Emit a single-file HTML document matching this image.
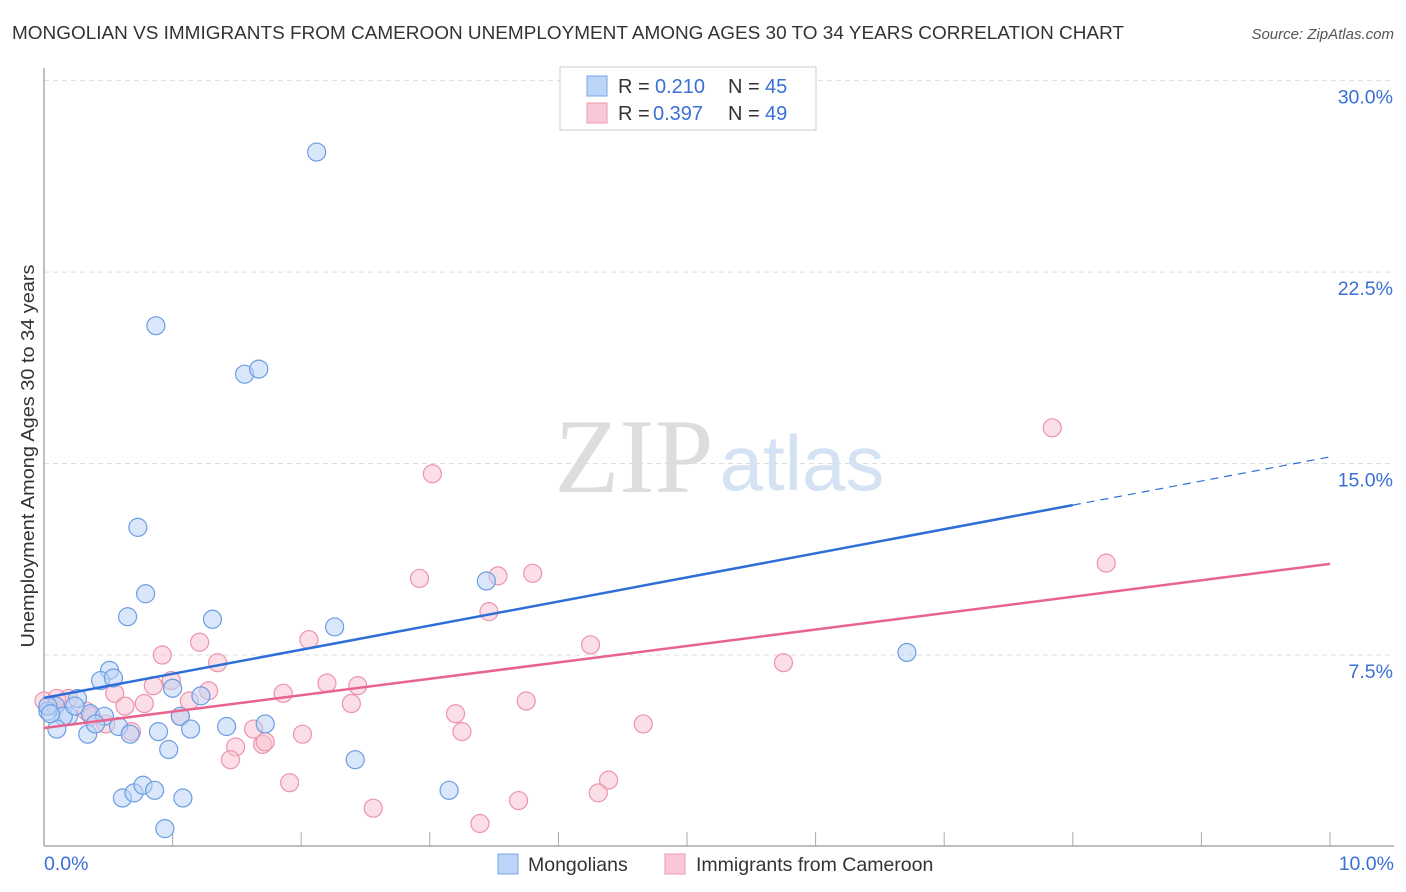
<!DOCTYPE html>
<html><head><meta charset="utf-8">
<style>
body{margin:0;background:#fff;font-family:"Liberation Sans",sans-serif;}
#wrap{position:relative;width:1406px;height:892px;overflow:hidden;}
</style></head>
<body>
<div id="wrap">
<svg id="svg" width="1406" height="892" xmlns="http://www.w3.org/2000/svg">
<text x="12" y="39" font-size="18" fill="#333" textLength="1112" lengthAdjust="spacingAndGlyphs">MONGOLIAN VS IMMIGRANTS FROM CAMEROON UNEMPLOYMENT AMONG AGES 30 TO 34 YEARS CORRELATION CHART</text>
<text x="1394" y="39" font-size="15" fill="#555" font-style="italic" text-anchor="end">Source: ZipAtlas.com</text>
<text x="634" y="492" font-size="106" fill="#ddd" font-family="Liberation Serif" text-anchor="middle">ZIP</text>
<text x="802" y="490" font-size="78" fill="#d5e2f3" text-anchor="middle">atlas</text>
<text transform="translate(34,456) rotate(-90)" font-size="18.5" fill="#333" text-anchor="middle" textLength="383" lengthAdjust="spacingAndGlyphs">Unemployment Among Ages 30 to 34 years</text>
<g id="grid"></g><g id="pts"></g><g id="lines"></g>
<g>
<rect x="560" y="67" width="256" height="63" fill="#fff" stroke="#ccc"/>
<rect x="587" y="76" width="20" height="20" fill="#bcd4f5" stroke="#7aa6e6"/>
<rect x="587" y="103" width="20" height="20" fill="#f9c8d6" stroke="#ee9ab2"/>
<text x="618" y="93" font-size="20" fill="#333">R =</text>
<text x="655" y="93" font-size="20" fill="#3a6fd6">0.210</text>
<text x="728" y="93" font-size="20" fill="#333">N =</text>
<text x="765" y="93" font-size="20" fill="#3a6fd6">45</text>
<text x="618" y="120" font-size="20" fill="#333">R =</text>
<text x="653" y="120" font-size="20" fill="#3a6fd6">0.397</text>
<text x="728" y="120" font-size="20" fill="#333">N =</text>
<text x="765" y="120" font-size="20" fill="#3a6fd6">49</text>
</g>
<g>
<rect x="498" y="854" width="20" height="20" fill="#bcd4f5" stroke="#7aa6e6"/>
<text x="528" y="871" font-size="19.5" fill="#333">Mongolians</text>
<rect x="665" y="854" width="20" height="20" fill="#f9c8d6" stroke="#ee9ab2"/>
<text x="696" y="871" font-size="19.5" fill="#333">Immigrants from Cameroon</text>
</g>
</svg>
</div>
<script>
const yTicks=[7.5,15,22.5,30];
const yTickLabels=["7.5%","15.0%","22.5%","30.0%"];
const xTickLabels=["0.0%","10.0%"];
const blueX=[2.12,0.87,1.56,1.67,0.73,0.79,0.65,1.31,2.26,3.44,6.71,0.51,0.44,0.54,1.0,1.22,0.26,0.09,0.19,0.36,0.47,0.15,0.03,0.1,0.34,0.4,0.58,0.67,0.89,1.06,1.14,1.42,1.72,0.97,2.42,0.61,0.7,0.77,0.86,1.08,3.15,0.94,0.03,0.24,0.05];
const blueY=[27.2,20.4,18.5,18.7,12.5,9.9,9.0,8.9,8.6,10.4,7.6,6.9,6.5,6.6,6.2,5.9,5.8,5.5,5.1,5.2,5.1,5.1,5.3,4.6,4.4,4.8,4.7,4.4,4.5,5.1,4.6,4.7,4.8,3.8,3.4,1.9,2.1,2.4,2.2,1.9,2.2,0.7,5.5,5.5,5.2];
const pinkX=[7.84,3.02,8.26,2.92,3.53,3.8,3.46,2.06,1.21,4.25,0.92,5.75,1.35,0.99,0.85,1.28,0.55,1.86,2.2,2.44,2.39,3.75,1.13,0.78,0.63,0.19,0.05,0.0,0.33,0.37,1.06,3.2,0.48,0.68,1.63,4.66,2.01,3.25,1.49,1.7,1.72,1.45,4.39,1.91,4.31,3.69,2.56,3.39,0.1];
const pinkY=[16.4,14.6,11.1,10.5,10.6,10.7,9.2,8.1,8.0,7.9,7.5,7.2,7.2,6.5,6.3,6.1,6.0,6.0,6.4,6.3,5.6,5.7,5.7,5.6,5.5,5.8,5.5,5.7,5.3,5.1,5.1,5.2,4.8,4.5,4.6,4.8,4.4,4.5,3.9,4.0,4.1,3.4,2.6,2.5,2.1,1.8,1.5,0.9,5.8];
const blueTrend=[5.82,15.26], pinkTrend=[4.64,11.07];
const NS="http://www.w3.org/2000/svg";
const X=v=>44+v*128.6, Y=v=>846.5-v*25.53;
function mk(tag,a,parent){const e=document.createElementNS(NS,tag);for(const k in a)e.setAttribute(k,a[k]);parent.appendChild(e);return e;}
const grid=document.getElementById('grid'),pts=document.getElementById('pts'),lines=document.getElementById('lines');
yTicks.forEach((t,i)=>{
 const l=mk('line',{x1:44,x2:1394,y1:Y(t),y2:Y(t),stroke:'#ddd','stroke-dasharray':'5,4'},grid);
 
 
 const tx=mk('text',{x:1393,y:Y(t)+23,'font-size':19.5,fill:'#3a6fd6','text-anchor':'end'},grid);
 tx.textContent=yTickLabels[i];
 
 
});
const ax=mk('line',{x1:44,x2:44,y1:68,y2:846,stroke:'#aaa','stroke-width':1.5},grid);


const bx=mk('line',{x1:44,x2:1394,y1:846,y2:846,stroke:'#aaa','stroke-width':1.5},grid);


for(let i=1;i<=10;i++){const t=mk('line',{x1:X(i),x2:X(i),y1:832,y2:846,stroke:'#aaa'},grid);
 
 }
[[0,'start',44],[10,'end',1394]].forEach((d,i)=>{const t=mk('text',{x:d[2],y:870,'font-size':19.5,fill:'#3a6fd6','text-anchor':d[1]},grid);t.textContent=xTickLabels[i];
 
 });
function dots(xs,ys,fill,stroke,name){xs.forEach((x,i)=>{const c=mk('circle',{cx:X(x),cy:Y(ys[i]),r:9,fill:fill,'fill-opacity':0.55,stroke:stroke,'stroke-width':1.2},pts);
 
 });}
dots(pinkX,pinkY,'#f7c3d2','#ec93ad','cameroon-point');
dots(blueX,blueY,'#bcd4f5','#6b9de3','mongolian-point');
const bm=8;const b1=blueTrend[0]+(blueTrend[1]-blueTrend[0])*bm/10;
const lb=mk('line',{x1:X(0),y1:Y(blueTrend[0]),x2:X(bm),y2:Y(b1),stroke:'#2d6fd6','stroke-width':2.5},lines);


const lbd=mk('line',{x1:X(bm),y1:Y(b1),x2:X(10),y2:Y(blueTrend[1]),stroke:'#2d6fd6','stroke-width':1.2,'stroke-dasharray':'8,6'},lines);


const lp=mk('line',{x1:X(0),y1:Y(pinkTrend[0]),x2:X(10),y2:Y(pinkTrend[1]),stroke:'#e8648f','stroke-width':2.5},lines);


</script>
</body></html>
